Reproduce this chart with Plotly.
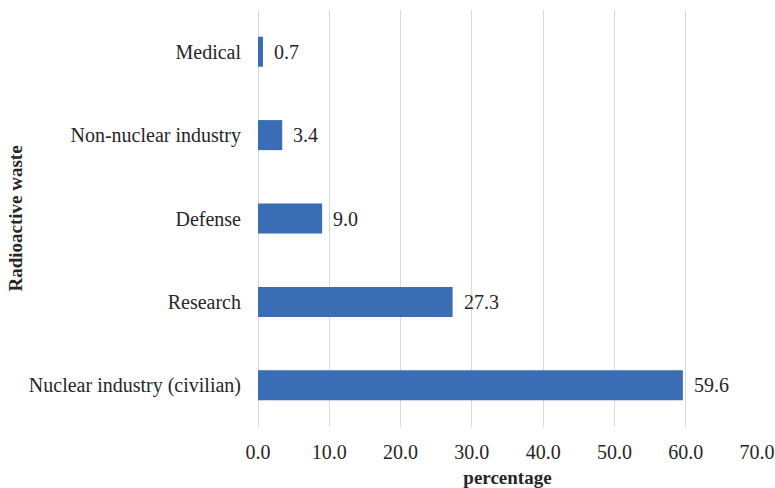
import plotly.graph_objects as go

# Share of radioactive waste by source (percentage)
categories = ["Nuclear industry (civilian)", "Research", "Defense",
              "Non-nuclear industry", "Medical"]
values = [59.6, 27.3, 9.0, 3.4, 0.7]

bar_color = "#3b6db4"
font_family = "Liberation Serif"

fig = go.Figure(
    go.Bar(
        x=values,
        y=categories,
        orientation="h",
        marker=dict(color=bar_color, line=dict(width=0)),
        width=0.36,
    )
)

# Value labels to the right of each bar
for cat, val in zip(categories, values):
    fig.add_annotation(
        x=val, y=cat, text=f"{val:.1f}", showarrow=False,
        xanchor="left", xshift=9,
        font=dict(family=font_family, size=20, color="#262626"),
    )

fig.update_layout(
    width=775, height=488,
    margin=dict(l=258, r=18, t=10, b=61),
    plot_bgcolor="white", paper_bgcolor="white",
    font=dict(family=font_family, size=20, color="#262626"),
    showlegend=False,
)

fig.update_xaxes(
    range=[0, 70], dtick=10, tickformat=".1f",
    showgrid=True, gridcolor="#d9d9d9", gridwidth=1,
    zeroline=True, zerolinecolor="#d9d9d9", zerolinewidth=1,
    showline=False, ticks="", ticklabelstandoff=11, automargin=False,
    title=dict(text="<b>percentage</b>", font=dict(size=19), standoff=10),
)

fig.update_yaxes(
    showgrid=False, showline=False, zeroline=False,
    ticks="", ticklabelstandoff=16, automargin=False,
    title=dict(text="<b>Radioactive waste</b>", font=dict(size=19), standoff=1),
)

fig.write_html("out.html")
